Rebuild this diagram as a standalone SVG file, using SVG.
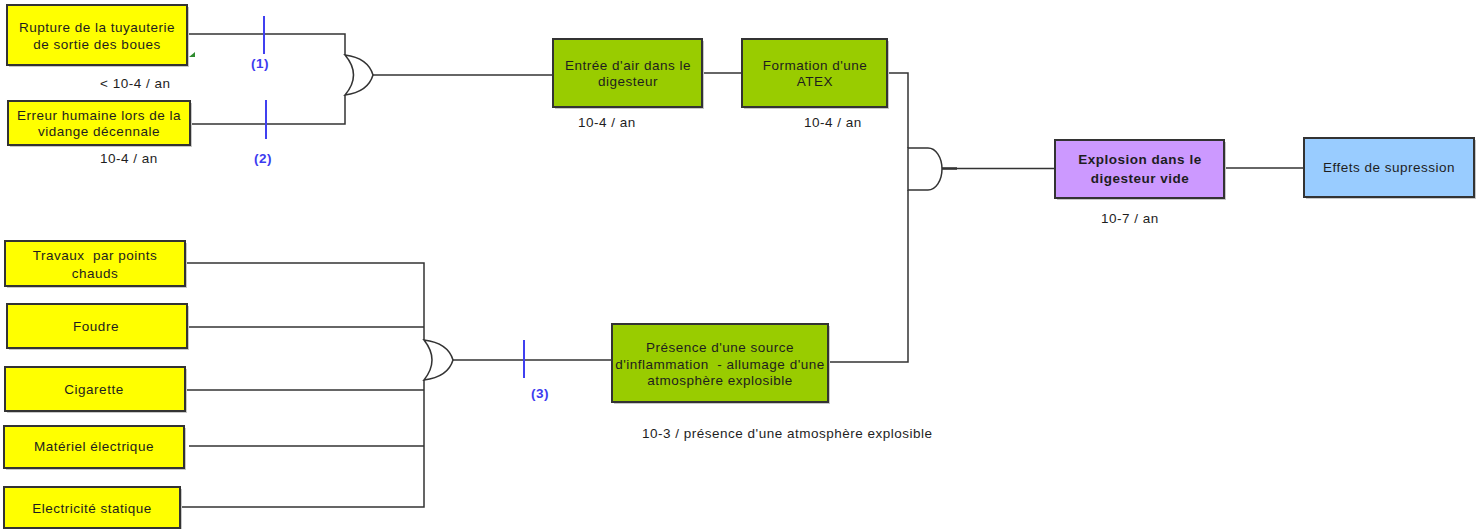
<svg xmlns="http://www.w3.org/2000/svg" width="1483" height="529" viewBox="0 0 1483 529">
<defs>
<style>
.box{stroke:#333;stroke-width:2}
.sh{fill:#c8c8c8}
.y{fill:#ffff00}
.g{fill:#99cc00}
.p{fill:#cc99ff}
.b{fill:#99ccff}
text{font-family:"Liberation Sans",Arial,sans-serif;font-size:13.5px;letter-spacing:0.5px;fill:#1e1e1e}
.c{text-anchor:middle}
.bold{font-weight:bold}
.lbl{fill:#3c3cf0;font-weight:bold;text-anchor:middle}
.wire{fill:none;stroke:#333;stroke-width:1.5}
.gate{fill:#fff;stroke:#333;stroke-width:1.5}
.tick{stroke:#4040f0;stroke-width:2}
</style>
</defs>
<rect width="1483" height="529" fill="#fff"/>

<g id="connectors">
<polyline class="wire" points="187,34 345,34 345,55"/>
<polyline class="wire" points="190,124 345,124 345,95"/>
<line class="wire" x1="373" y1="75" x2="553" y2="75"/>
<line class="wire" x1="702" y1="73" x2="742" y2="73"/>
<polyline class="wire" points="887,73 908,73 908,148"/>
<polyline class="wire" points="908,190 908,362 828,362"/>
<line class="wire" x1="942" y1="168.5" x2="1055" y2="168.5"/>
<line x1="942" y1="168.5" x2="957" y2="168.5" stroke="#333" stroke-width="2.5"/>
<line class="wire" x1="1224" y1="168" x2="1304" y2="168"/>
<polyline class="wire" points="185,263 424,263 424,340"/>
<line class="wire" x1="187" y1="327" x2="424" y2="327"/>
<line class="wire" x1="185" y1="390" x2="424" y2="390"/>
<line class="wire" x1="189" y1="446" x2="424" y2="446"/>
<polyline class="wire" points="180,507 424,507 424,380"/>
<line class="wire" x1="453" y1="360" x2="612" y2="360"/>
<line class="tick" x1="264" y1="16" x2="264" y2="54"/>
<line class="tick" x1="266" y1="100" x2="266" y2="139"/>
<line class="tick" x1="524" y1="340" x2="524" y2="378"/>
<text class="lbl" x="260" y="68">(1)</text>
<text class="lbl" x="263" y="163">(2)</text>
<text class="lbl" x="540" y="398">(3)</text>
</g>

<g id="gate-or-1"><path class="gate" d="M345,55 Q368,58 373,75 Q368,92 345,95 Q362,75 345,55 Z"/></g>
<g id="gate-or-2"><path class="gate" d="M424,340 Q448,343 453,360 Q448,377 424,380 Q440,360 424,340 Z"/></g>
<g id="gate-and"><path class="gate" d="M908,148 H928 A14,21 0 0 1 928,190 H908 Z"/></g>

<g id="rupture">
<rect class="sh" x="9" y="7" width="180" height="60"/>
<rect class="box y" x="7" y="5" width="180" height="60"/>
<text class="c" x="97" y="32">Rupture de la tuyauterie</text>
<text class="c" x="97" y="49">de sortie des boues</text>
<polygon points="189,57 195,52 195,57" fill="#2e8b2e"/>
<text x="100" y="88">&lt; 10-4 / an</text>
</g>

<g id="erreur">
<rect class="sh" x="10" y="103" width="182" height="44"/>
<rect class="box y" x="8" y="101" width="182" height="44"/>
<text class="c" x="99" y="120">Erreur humaine lors de la</text>
<text class="c" x="99" y="136">vidange décennale</text>
<text x="100" y="163">10-4 / an</text>
</g>

<g id="entree">
<rect class="sh" x="555" y="41" width="149" height="68"/>
<rect class="box g" x="553" y="39" width="149" height="68"/>
<text class="c" x="628" y="70">Entrée d'air dans le</text>
<text class="c" x="628" y="86">digesteur</text>
<text x="578" y="127">10-4 / an</text>
</g>

<g id="formation">
<rect class="sh" x="744" y="41" width="145" height="68"/>
<rect class="box g" x="742" y="39" width="145" height="68"/>
<text class="c" x="815" y="70">Formation d'une</text>
<text class="c" x="815" y="86">ATEX</text>
<text x="804" y="127">10-4 / an</text>
</g>

<g id="explosion">
<rect class="sh" x="1057" y="142" width="169" height="58"/>
<rect class="box p" x="1055" y="140" width="169" height="58"/>
<text class="c bold" x="1140" y="164">Explosion dans le</text>
<text class="c bold" x="1140" y="183">digesteur vide</text>
<text x="1101" y="223">10-7 / an</text>
</g>

<g id="effets">
<rect class="sh" x="1306" y="140" width="170" height="59"/>
<rect class="box b" x="1304" y="138" width="170" height="59"/>
<text class="c" x="1389" y="172">Effets de supression</text>
</g>

<g id="presence">
<rect class="sh" x="614" y="326" width="216" height="78"/>
<rect class="box g" x="612" y="324" width="216" height="78"/>
<text class="c" x="720" y="352">Présence d'une source</text>
<text class="c" x="720" y="369" style="white-space:pre">d'inflammation  - allumage d'une</text>
<text class="c" x="720" y="385">atmosphère explosible</text>
<text x="642" y="438">10-3 / présence d'une atmosphère explosible</text>
</g>

<g id="travaux">
<rect class="sh" x="7" y="243" width="180" height="45"/>
<rect class="box y" x="5" y="241" width="180" height="45"/>
<text class="c" x="95" y="260" style="white-space:pre">Travaux  par points</text>
<text class="c" x="95" y="278">chauds</text>
</g>

<g id="foudre">
<rect class="sh" x="9" y="306" width="180" height="44"/>
<rect class="box y" x="7" y="304" width="180" height="44"/>
<text class="c" x="96" y="331">Foudre</text>
</g>

<g id="cigarette">
<rect class="sh" x="7" y="369" width="180" height="44"/>
<rect class="box y" x="5" y="367" width="180" height="44"/>
<text class="c" x="94" y="394">Cigarette</text>
</g>

<g id="materiel">
<rect class="sh" x="6" y="428" width="180" height="42"/>
<rect class="box y" x="4" y="426" width="180" height="42"/>
<text class="c" x="94" y="451">Matériel électrique</text>
</g>

<g id="electricite">
<rect class="sh" x="6" y="489" width="176" height="42"/>
<rect class="box y" x="4" y="487" width="176" height="41"/>
<text class="c" x="92" y="513">Electricité statique</text>
</g>
</svg>
